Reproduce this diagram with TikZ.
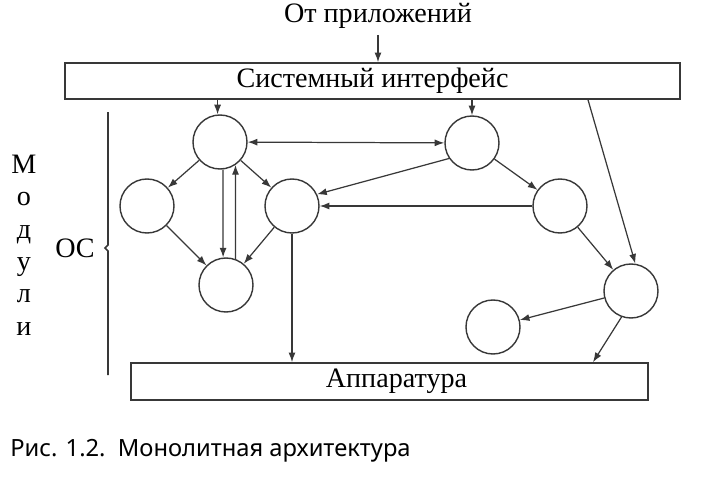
\documentclass[tikz,border=0pt]{standalone}
\usepackage{fontspec}
\setmainfont{Liberation Serif}
\newfontfamily\capfont{Noto Sans}
\usetikzlibrary{arrows.meta}

\definecolor{ln}{gray}{0.22}

\tikzset{
	module/.style={circle, draw=ln, line width=0.8pt, minimum size=10.8mm, inner sep=0pt},
	layer/.style={draw=ln, line width=0.9pt, minimum height=7.2mm, inner sep=0pt, font=\fontsize{16}{19}\selectfont},
	lbl/.style={font=\fontsize{16}{18.4}\selectfont},
	call/.style={-{Latex[length=5.5pt,width=4pt]}, color=ln, line width=0.7pt},
}

\begin{document}
\begin{tikzpicture}[x=0.2mm, y=-0.2mm]
		\useasboundingbox (0,0) rectangle (725,500);

		\draw (378,16) node[lbl] (app) {От приложений};
		\draw (372.5,81) node[layer, minimum width=123mm] (sys) {Системный интерфейс};
		\draw (389.5,381.5) node[layer, minimum width=103.4mm, minimum height=7.4mm] (hw) {\hspace{2.8mm}Аппаратура};

		\draw (220,142) node[module] (A) {};
		\draw (147,206) node[module] (B) {};
		\draw (292,206) node[module] (C) {};
		\draw (226,285) node[module] (D) {};
		\draw (472,143) node[module] (E) {};
		\draw (560,206) node[module] (F) {};
		\draw (631,291) node[module] (G) {};
		\draw (493,327) node[module] (H) {};

		% ОС bracket and labels
		\draw[ln, line width=0.9pt] (108,112) -- (108,245) -- (105,248) -- (108,251) -- (108,375);
		\draw (75,248) node[lbl] (os) {ОС};
		\draw (24,245) node[lbl, align=center, inner sep=0pt] (mod) {М\\о\\д\\у\\л\\и};

		\path[call]
			(app) 					edge 	(app |- sys.north)
			(A.95 |- sys.south) 	edge 	(A.95)
			(E |- sys.south) 		edge 	(E.north)
			([xshift=43.1mm]sys.south) 	edge 	(G.81)
			(A) 					edge 	(B)
								edge 	(C)
			(A.-84) 				edge 	(D.96)
			(D.70) 				edge 	(A.-56)
			(B) 					edge 	(D)
			(C) 					edge 	(D)
								edge 	(C |- hw.north)
			(E.214) 				edge 	(C.25)
			(E) 					edge 	(F)
			(F.west) 				edge 	(C.east)
			(F) 					edge 	(G)
			(G) 					edge 	(H)
			(G.250) 				edge 	([xshift=40.7mm]hw.north)
			;
		\path[call, {Latex[length=5.5pt,width=4pt]}-{Latex[length=5.5pt,width=4pt]}]
			(A) 					edge 	(E);

		\draw (10,456) node[anchor=base west, inner sep=0pt, font=\capfont\fontsize{13.5}{16}\selectfont] (cap) {Рис. 1.2.\ \ Монолитная архитектура};
	\end{tikzpicture}
\end{document}
